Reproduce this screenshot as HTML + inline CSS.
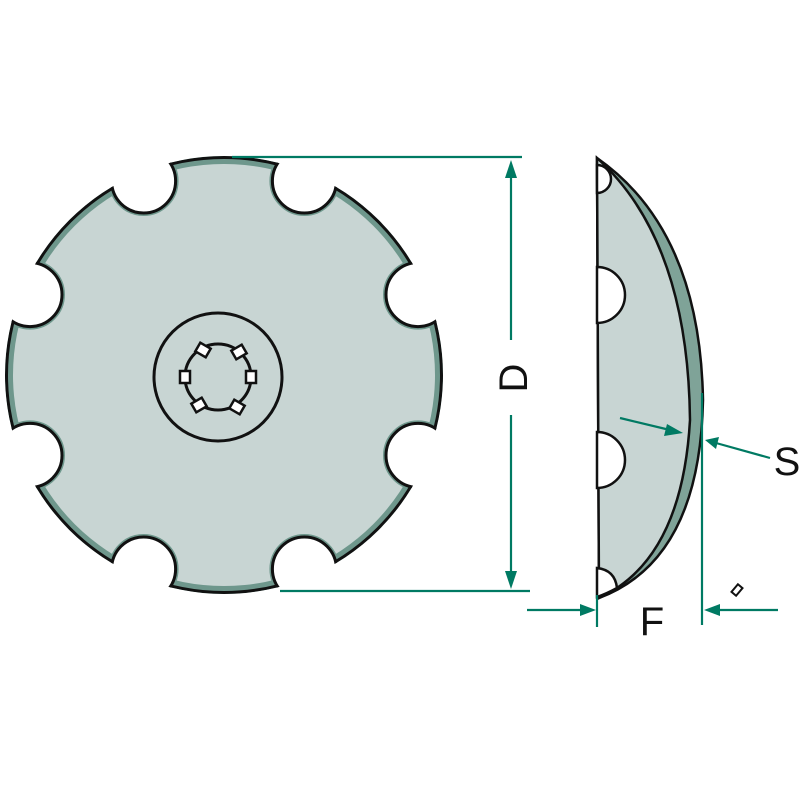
<!DOCTYPE html>
<html><head><style>html,body{margin:0;padding:0;background:#fff}svg{display:block}</style></head>
<body>
<svg width="800" height="800" viewBox="0 0 800 800" xmlns="http://www.w3.org/2000/svg">
<defs>
<g id="notches">
<circle cx="143.6" cy="181" r="32"/><circle cx="304.4" cy="181" r="32"/>
<circle cx="418" cy="294.6" r="32"/><circle cx="418" cy="455.4" r="32"/>
<circle cx="304.4" cy="569" r="32"/><circle cx="143.6" cy="569" r="32"/>
<circle cx="30" cy="455.4" r="32"/><circle cx="30" cy="294.6" r="32"/>
</g>
<mask id="m1"><rect width="800" height="800" fill="#000"/><circle cx="224" cy="375" r="219" fill="#fff"/><use href="#notches" fill="#000"/></mask>
<mask id="m2"><rect width="800" height="800" fill="#000"/><circle cx="224" cy="375" r="211" fill="#fff"/><use href="#notches" fill="#000" stroke="#000" stroke-width="6"/></mask>
<mask id="m3"><rect width="800" height="800" fill="#000"/><circle cx="224" cy="375" r="219" fill="#fff"/></mask>
</defs>
<rect x="0" y="0" width="800" height="800" fill="#fff"/>
<rect width="800" height="800" fill="#6e978c" mask="url(#m1)"/>
<rect width="800" height="800" fill="#c8d5d3" mask="url(#m2)"/>
<g mask="url(#m3)"><use href="#notches" fill="none" stroke="#111" stroke-width="3"/></g>
<g mask="url(#m1)"><circle cx="224" cy="375" r="217.5" fill="none" stroke="#111" stroke-width="3"/></g>
<circle cx="218" cy="377" r="64" fill="none" stroke="#111" stroke-width="3"/>
<circle cx="218" cy="377" r="33" fill="none" stroke="#111" stroke-width="3"/>
<g fill="#fff" stroke="#111" stroke-width="2.5">
<rect x="-5" y="-6" width="10" height="12" transform="translate(185 377)"/>
<rect x="-5" y="-6" width="10" height="12" transform="translate(251 377)"/>
<rect x="-5" y="-6" width="10" height="12" transform="translate(203 350) rotate(-60)"/>
<rect x="-5" y="-6" width="10" height="12" transform="translate(239 352) rotate(60)"/>
<rect x="-5" y="-6" width="10" height="12" transform="translate(199 405) rotate(60)"/>
<rect x="-5" y="-6" width="10" height="12" transform="translate(237 407) rotate(-60)"/>
</g>
<!-- side view -->
<path d="M597 158 Q700 230 703 400 Q700 560 599 598 Z" fill="#7fa398" stroke="#111" stroke-width="2.5"/>
<path d="M597 158 Q688 240 690 420 Q682 560 599 598 L597 158 Z" fill="#c8d5d3" stroke="#111" stroke-width="2.5"/>
<g fill="#fff" stroke="#111" stroke-width="2.5">
<path d="M597 165 A12 12 0 0 1 597 193 Z"/>
<path d="M597 267 A28 28 0 0 1 597 323 Z"/>
<path d="M597 432 A28 28 0 0 1 597 488 Z"/>
<path d="M597 568 Q615 570 617 588 Q606 594 597 597 Z"/>
</g>
<line x1="597" y1="158" x2="597" y2="598" stroke="#111" stroke-width="1" opacity="0"/>
<g stroke="#007a63" stroke-width="2.2" fill="none">
<line x1="232" y1="157" x2="522" y2="157"/>
<line x1="280" y1="591" x2="530" y2="591"/>
<line x1="511" y1="172" x2="511" y2="340"/>
<line x1="511" y1="415" x2="511" y2="576"/>
<line x1="597" y1="595" x2="597" y2="627"/>
<line x1="702" y1="393" x2="702" y2="625"/>
<line x1="527" y1="610" x2="585" y2="610"/>
<line x1="778" y1="610" x2="715" y2="610"/>
<line x1="620" y1="418" x2="670" y2="430"/>
<line x1="770" y1="458" x2="716" y2="443"/>
</g>
<g fill="#007a63">
<polygon points="511,160 505,178 517,178"/>
<polygon points="511,589 505,571 517,571"/>
<polygon points="596,610 580,604 580,616"/>
<polygon points="704,610 720,604 720,616"/>
<polygon points="683,433 667,424 664,436"/>
<polygon points="705,440 719,437 716,449"/>
</g>
<rect x="-3" y="-5" width="6" height="10" fill="none" stroke="#111" stroke-width="2" transform="translate(737 590) rotate(40)"/>
<g font-family="Liberation Sans, sans-serif" font-size="40" fill="#111">
<text x="0" y="0" transform="translate(527 378) rotate(-90)" text-anchor="middle">D</text>
<text x="652" y="635" text-anchor="middle">F</text>
<text x="787" y="475" text-anchor="middle">S</text>
</g>
</svg>
</body></html>
